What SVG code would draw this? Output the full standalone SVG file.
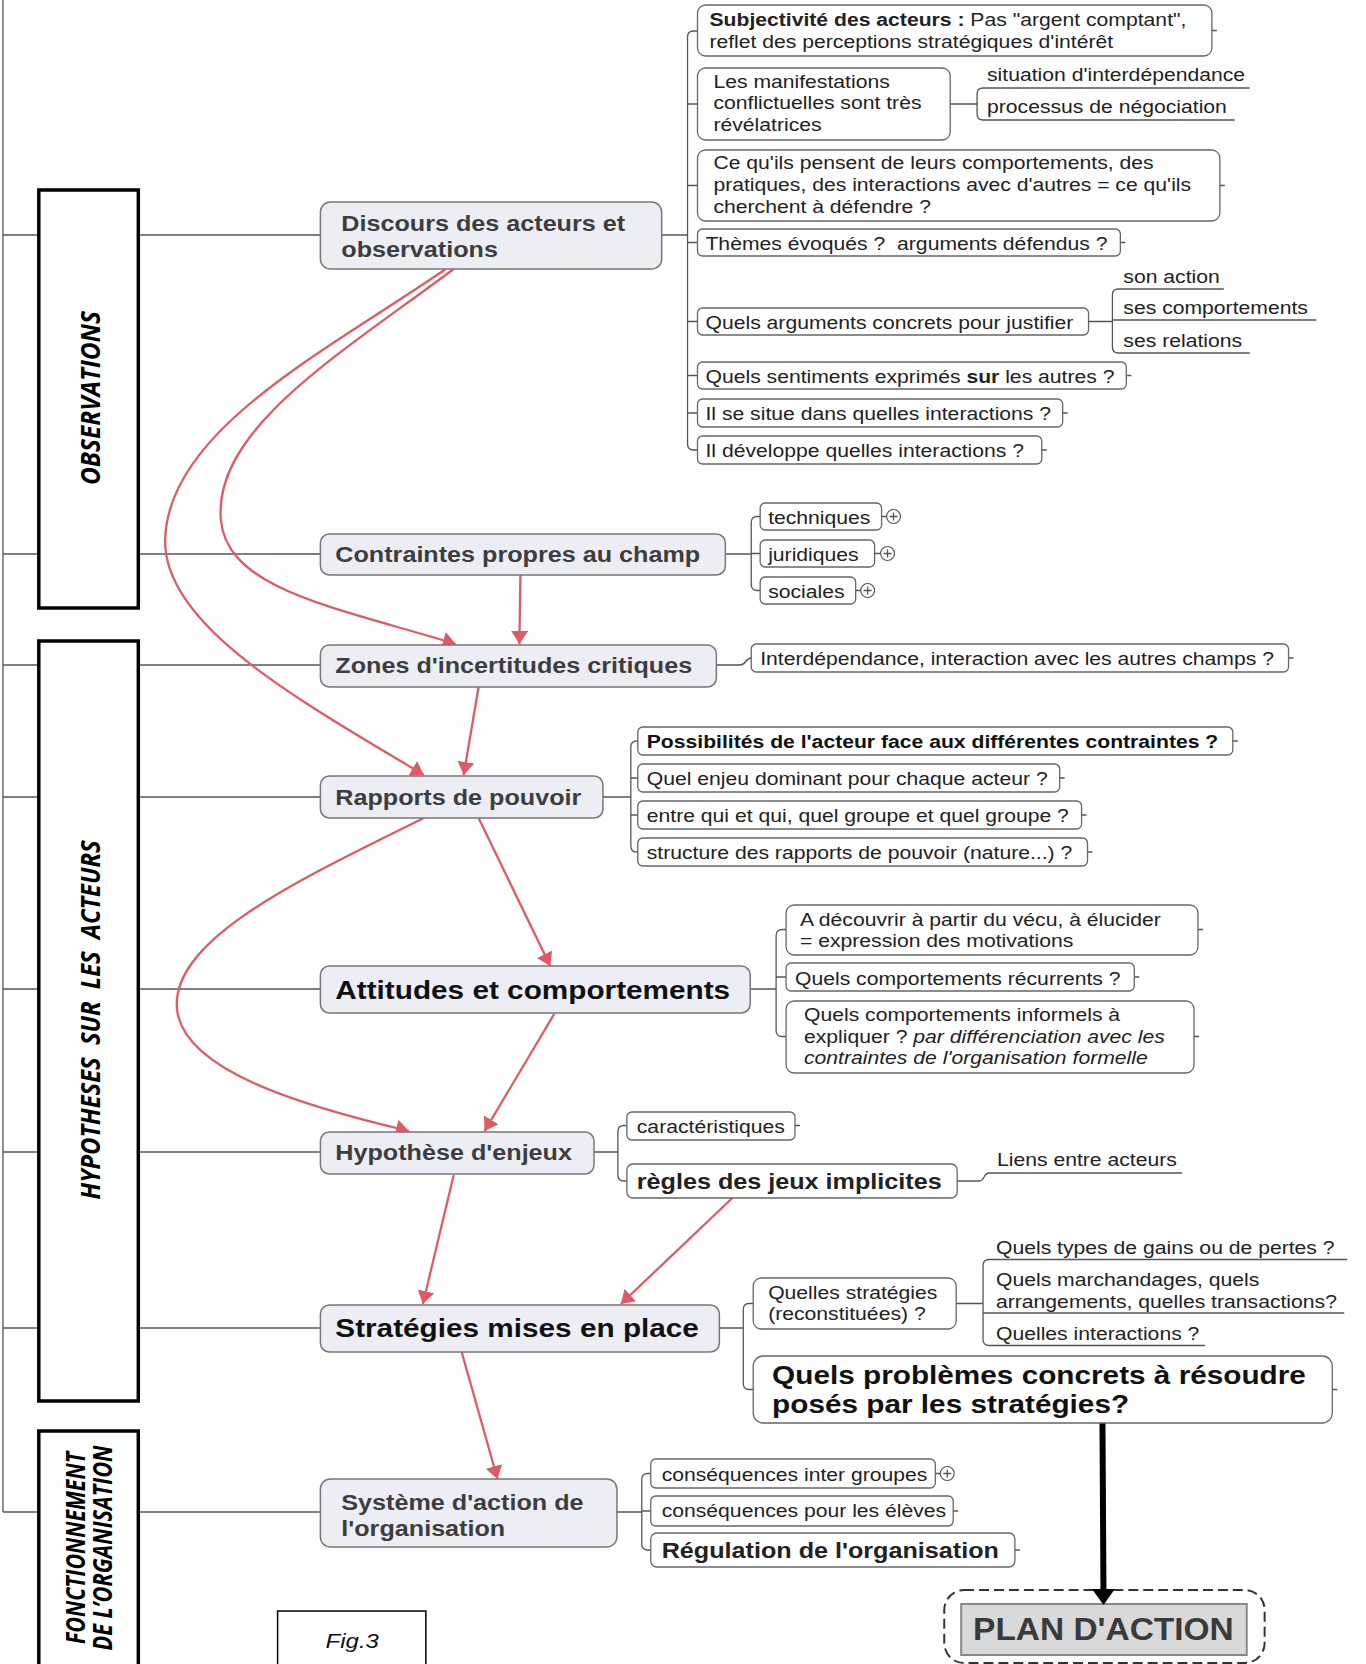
<svg xmlns="http://www.w3.org/2000/svg" width="1366" height="1664" viewBox="0 0 1366 1664">
<defs>
<style>
text{font-family:"Liberation Sans",Arial,sans-serif}
.lk{fill:none;stroke:#555;stroke-width:1.3}
.sec{fill:#fff;stroke:#000;stroke-width:3.5}
.mn{fill:#eceef4;stroke:#777;stroke-width:1.5}
.sb{fill:#fff;stroke:#666;stroke-width:1.3}
.mt{font-weight:bold;font-size:22px;fill:#3d3d3d}
.big{font-weight:bold;font-size:26px;fill:#111}
.st{font-size:18.5px;fill:#222}
.sbold{font-size:18.5px;font-weight:bold;fill:#111}
.rg{font-size:22px;font-weight:bold;fill:#222}
.sl{font-family:"Open Sans",sans-serif;font-weight:bold;font-style:italic;font-size:23px;fill:#000}
.red{fill:none;stroke:#e05a66;stroke-width:2.3}
.pl{fill:#fff;stroke:#555;stroke-width:1.2}
</style>
<marker id="ar" viewBox="0 0 13 17" refX="13" refY="8.5" markerWidth="13" markerHeight="17" markerUnits="userSpaceOnUse" orient="auto"><path d="M0,0 L13,8.5 L0,17 z" fill="#e05a66"/></marker>
<marker id="ab" viewBox="0 0 16 23" refX="0" refY="11.5" markerWidth="16" markerHeight="23" markerUnits="userSpaceOnUse" orient="auto"><path d="M0,0 L16,11.5 L0,23 z" fill="#000"/></marker>
</defs>
<rect width="1366" height="1664" fill="#fff"/>
<g id="diagram" transform="scale(0.995 1)">

<g id="n-plan">
<rect x="949" y="1590" width="322" height="73" rx="20" fill="none" stroke="#333" stroke-width="2" stroke-dasharray="10 5"/>
<rect x="966" y="1604" width="287" height="51" fill="#d9d9d9" stroke="#888" stroke-width="2"/>
<text x="1109" y="1640" text-anchor="middle" font-size="32" font-weight="bold" fill="#3a3a3a" textLength="262" lengthAdjust="spacingAndGlyphs">PLAN D'ACTION</text>
</g>

<g id="connectors">
<path class="lk" d="M3 0 V1512"/>
<path class="lk" d="M3 235 H322 M3 554 H322 M3 665 H322 M3 797 H322 M3 989 H322 M3 1152 H322 M3 1328 H322 M3 1512 H322"/>
<path class="lk" d="M665 235 H691 M701 31 H697 Q691 31 691 37 V444 Q691 450 697 450 H701 M691 104 H701 M691 185.5 H701 M691 242.5 H701 M691 321.5 H701 M691 375.5 H701 M691 413 H701"/>
<path class="lk" d="M955 104 H982 M1256 88 H988 Q982 88 982 94 V114 Q982 120 988 120 H1241"/>
<path class="lk" d="M1094 321.5 H1118 M1230 289 H1124 Q1118 289 1118 295 V347 Q1118 353 1124 353 H1256 M1118 320 H1323"/>
<path class="lk" d="M729 554 H755 M764 516.5 H761 Q755 516.5 755 522.5 V584.5 Q755 590.5 761 590.5 H764 M755 553.5 H764"/>
<path class="lk" d="M886 516.5 H891 M879 553.5 H885 M860 590.5 H865 M940 1473.5 H945"/>
<path class="lk" d="M720 665 H744 C750 665 749 658 755 658"/>
<path class="lk" d="M606 797 H634 M641 741 H640 Q634 741 634 747 V846 Q634 852 640 852 H641 M634 778 H641 M634 815 H641"/>
<path class="lk" d="M754 989 H780 M790 929.5 H786 Q780 929.5 780 935.5 V1030.5 Q780 1036.5 786 1036.5 H790 M780 977 H790"/>
<path class="lk" d="M597 1152 H621 M630 1125.5 H627 Q621 1125.5 621 1131.5 V1175 Q621 1181 627 1181 H630"/>
<path class="lk" d="M962 1181 H984 C990 1181 988 1173 994 1173 H1188"/>
<path class="lk" d="M723 1328 H747 M757 1303.5 H753 Q747 1303.5 747 1309.5 V1383.5 Q747 1389.5 753 1389.5 H757"/>
<path class="lk" d="M961 1303.5 H988 M1354 1259.5 H994 Q988 1259.5 988 1265.5 V1339.5 Q988 1345.5 994 1345.5 H1211 M988 1313 H1351"/>
<path class="lk" d="M620 1512 H645 M654 1473.5 H651 Q645 1473.5 645 1479.5 V1544 Q645 1550 651 1550 H654 M645 1511 H654"/>
<path class="lk" d="M1218 30.5 h5 M1226 185.5 h5 M1126 242.5 h5 M1132 375.5 h5 M1068 413 h5 M1047 450 h5 M1295 658 h5 M1239 741 h5 M1065 778 h5 M1087 815 h5 M1093 852 h5 M1204 929.5 h5 M1140 977 h5 M1200 1036.5 h5 M799 1125.5 h5 M1339 1389.5 h5 M958 1511 h5 M1020 1550 h5"/>
<path class="red" marker-end="url(#ar)" d="M448 269 C330 350 168 430 166 540 C164 625 300 700 426 775"/>
<path class="red" marker-end="url(#ar)" d="M456 269 C340 355 214 430 222 520 C228 590 340 608 458 644"/>
<path class="red" marker-end="url(#ar)" d="M523 575 L522 644"/>
<path class="red" marker-end="url(#ar)" d="M481 687 L466 775"/>
<path class="red" marker-end="url(#ar)" d="M426 818 C300 880 170 940 178 1010 C185 1070 300 1105 411 1131"/>
<path class="red" marker-end="url(#ar)" d="M481 818 L553 966"/>
<path class="red" marker-end="url(#ar)" d="M557 1014 L487 1131"/>
<path class="red" marker-end="url(#ar)" d="M456 1175 L425 1304"/>
<path class="red" marker-end="url(#ar)" d="M736 1198 L624 1304"/>
<path class="red" marker-end="url(#ar)" d="M464 1352 L500 1479"/>
<path d="M1108 1421 L1109 1589" fill="none" stroke="#000" stroke-width="6" marker-end="url(#ab)"/>
</g>

<g id="sections">
<rect class="sec" x="39" y="190" width="100" height="418"/>
<text class="sl" transform="translate(101 398) scale(1.15 1) rotate(-90)" text-anchor="middle" textLength="174" lengthAdjust="spacingAndGlyphs">OBSERVATIONS</text>
<rect class="sec" x="39" y="641" width="100" height="760"/>
<text class="sl" xml:space="preserve" transform="translate(101 1020) scale(1.15 1) rotate(-90)" text-anchor="middle" textLength="359" lengthAdjust="spacingAndGlyphs">HYPOTHESES  SUR  LES  ACTEURS</text>
<rect class="sec" x="39" y="1431" width="100" height="250"/>
<text class="sl" transform="translate(85 1548) scale(1.15 1) rotate(-90)" text-anchor="middle" textLength="192" lengthAdjust="spacingAndGlyphs">FONCTIONNEMENT</text>
<text class="sl" transform="translate(113 1548) scale(1.15 1) rotate(-90)" text-anchor="middle" textLength="205" lengthAdjust="spacingAndGlyphs">DE L’ORGANISATION</text>
</g>

<g id="n-discours">
<rect class="mn" x="322" y="202" width="343" height="67" rx="10"/>
<text class="mt" transform="translate(343 231) scale(1.15 1)"><tspan x="0" y="0">Discours des acteurs et</tspan><tspan x="0" y="26">observations</tspan></text>
</g>
<g id="n-subjectivite">
<rect class="sb" x="701" y="5" width="517" height="51" rx="8"/>
<text class="st" transform="translate(713 26) scale(1.15 1)"><tspan x="0" y="0"><tspan font-weight="bold">Subjectivité des acteurs :</tspan> Pas "argent comptant",</tspan><tspan x="0" y="22">reflet des perceptions stratégiques d'intérêt</tspan></text>
</g>
<g id="n-manifestations">
<rect class="sb" x="701" y="68" width="254" height="72" rx="8"/>
<text class="st" transform="translate(717 88) scale(1.15 1)"><tspan x="0" y="0">Les manifestations</tspan><tspan x="0" y="21.5">conflictuelles sont très</tspan><tspan x="0" y="43">révélatrices</tspan></text>
</g>
<g id="n-situation">
<text class="st" transform="translate(992 81) scale(1.15 1)">situation d'interdépendance</text>
</g>
<g id="n-processus">
<text class="st" transform="translate(992 113) scale(1.15 1)">processus de négociation</text>
</g>
<g id="n-pensent">
<rect class="sb" x="701" y="150" width="525" height="71" rx="8"/>
<text class="st" transform="translate(717 169) scale(1.15 1)"><tspan x="0" y="0">Ce qu'ils pensent de leurs comportements, des</tspan><tspan x="0" y="22">pratiques, des interactions avec d'autres = ce qu'ils</tspan><tspan x="0" y="44">cherchent à défendre ?</tspan></text>
</g>
<g id="n-themes">
<rect class="sb" x="701" y="229" width="425" height="27" rx="5"/>
<text class="st" xml:space="preserve" transform="translate(709 250) scale(1.15 1)">Thèmes évoqués ?  arguments défendus ?</text>
</g>
<g id="n-arguments">
<rect class="sb" x="701" y="308" width="393" height="27" rx="5"/>
<text class="st" transform="translate(709 329) scale(1.15 1)">Quels arguments concrets pour justifier</text>
</g>
<g id="n-sonaction"><text class="st" transform="translate(1129 283) scale(1.15 1)">son action</text></g>
<g id="n-sescomp"><text class="st" transform="translate(1129 314) scale(1.15 1)">ses comportements</text></g>
<g id="n-sesrel"><text class="st" transform="translate(1129 347) scale(1.15 1)">ses relations</text></g>
<g id="n-sentiments">
<rect class="sb" x="701" y="362" width="431" height="27" rx="5"/>
<text class="st" transform="translate(709 383) scale(1.15 1)">Quels sentiments exprimés <tspan font-weight="bold">sur</tspan> les autres ?</text>
</g>
<g id="n-situe">
<rect class="sb" x="701" y="399" width="367" height="28" rx="5"/>
<text class="st" transform="translate(709 420) scale(1.15 1)">Il se situe dans quelles interactions ?</text>
</g>
<g id="n-developpe">
<rect class="sb" x="701" y="436" width="346" height="28" rx="5"/>
<text class="st" transform="translate(709 457) scale(1.15 1)">Il développe quelles interactions ?</text>
</g>

<g id="n-contraintes">
<rect class="mn" x="322" y="534" width="407" height="41" rx="9"/>
<text class="mt" transform="translate(337 562) scale(1.15 1)">Contraintes propres au champ</text>
</g>
<g id="n-techniques">
<rect class="sb" x="764" y="503" width="122" height="27" rx="5"/>
<text class="st" transform="translate(772 524) scale(1.15 1)">techniques</text>
<circle class="pl" cx="898" cy="516.5" r="7"/><path class="lk" d="M894 516.5 h8 M898 512.5 v8"/>
</g>
<g id="n-juridiques">
<rect class="sb" x="764" y="540" width="115" height="27" rx="5"/>
<text class="st" transform="translate(772 561) scale(1.15 1)">juridiques</text>
<circle class="pl" cx="892" cy="553.5" r="7"/><path class="lk" d="M888 553.5 h8 M892 549.5 v8"/>
</g>
<g id="n-sociales">
<rect class="sb" x="764" y="577" width="96" height="27" rx="5"/>
<text class="st" transform="translate(772 598) scale(1.15 1)">sociales</text>
<circle class="pl" cx="872" cy="590.5" r="7"/><path class="lk" d="M868 590.5 h8 M872 586.5 v8"/>
</g>

<g id="n-zones">
<rect class="mn" x="322" y="645" width="398" height="42" rx="9"/>
<text class="mt" transform="translate(337 673) scale(1.15 1)">Zones d'incertitudes critiques</text>
</g>
<g id="n-interdependance">
<rect class="sb" x="755" y="644" width="540" height="28" rx="5"/>
<text class="st" transform="translate(764 665) scale(1.15 1)">Interdépendance, interaction avec les autres champs ?</text>
</g>

<g id="n-rapports">
<rect class="mn" x="322" y="776" width="284" height="42" rx="9"/>
<text class="mt" transform="translate(337 805) scale(1.15 1)">Rapports de pouvoir</text>
</g>
<g id="n-possibilites">
<rect class="sb" x="641" y="727" width="598" height="28" rx="5"/>
<text class="sbold" transform="translate(650 748) scale(1.15 1)">Possibilités de l'acteur face aux différentes contraintes ?</text>
</g>
<g id="n-enjeu">
<rect class="sb" x="641" y="764" width="424" height="28" rx="5"/>
<text class="st" transform="translate(650 785) scale(1.15 1)">Quel enjeu dominant pour chaque acteur ?</text>
</g>
<g id="n-entrequi">
<rect class="sb" x="641" y="801" width="446" height="28" rx="5"/>
<text class="st" transform="translate(650 822) scale(1.15 1)">entre qui et qui, quel groupe et quel groupe ?</text>
</g>
<g id="n-structure">
<rect class="sb" x="641" y="838" width="452" height="28" rx="5"/>
<text class="st" transform="translate(650 859) scale(1.15 1)">structure des rapports de pouvoir (nature...) ?</text>
</g>

<g id="n-attitudes">
<rect class="mn" x="322" y="966" width="432" height="47" rx="9"/>
<text class="big" transform="translate(337 999) scale(1.15 1)">Attitudes et comportements</text>
</g>
<g id="n-decouvrir">
<rect class="sb" x="790" y="905" width="414" height="50" rx="8"/>
<text class="st" transform="translate(804 926) scale(1.15 1)"><tspan x="0" y="0">A découvrir à partir du vécu, à élucider</tspan><tspan x="0" y="21">= expression des motivations</tspan></text>
</g>
<g id="n-recurrents">
<rect class="sb" x="790" y="963" width="350" height="28" rx="5"/>
<text class="st" transform="translate(799 985) scale(1.15 1)">Quels comportements récurrents ?</text>
</g>
<g id="n-informels">
<rect class="sb" x="790" y="1001" width="410" height="72" rx="8"/>
<text class="st" transform="translate(808 1021) scale(1.15 1)"><tspan x="0" y="0">Quels comportements informels à</tspan><tspan x="0" y="22">expliquer ? <tspan font-style="italic">par différenciation avec les</tspan></tspan><tspan x="0" y="43" font-style="italic">contraintes de l'organisation formelle</tspan></text>
</g>

<g id="n-hypothese">
<rect class="mn" x="322" y="1132" width="275" height="42" rx="9"/>
<text class="mt" transform="translate(337 1160) scale(1.15 1)">Hypothèse d'enjeux</text>
</g>
<g id="n-caracteristiques">
<rect class="sb" x="630" y="1112" width="169" height="28" rx="5"/>
<text class="st" transform="translate(640 1133) scale(1.15 1)">caractéristiques</text>
</g>
<g id="n-regles">
<rect class="sb" x="630" y="1164" width="332" height="34" rx="6"/>
<text class="rg" transform="translate(640 1189) scale(1.15 1)">règles des jeux implicites</text>
</g>
<g id="n-liens"><text class="st" transform="translate(1002 1166) scale(1.15 1)">Liens entre acteurs</text></g>

<g id="n-strategies">
<rect class="mn" x="322" y="1305" width="401" height="47" rx="9"/>
<text class="big" transform="translate(337 1337) scale(1.15 1)">Stratégies mises en place</text>
</g>
<g id="n-quelles">
<rect class="sb" x="757" y="1278" width="204" height="51" rx="8"/>
<text class="st" transform="translate(772 1299) scale(1.15 1)"><tspan x="0" y="0">Quelles stratégies</tspan><tspan x="0" y="21">(reconstituées) ?</tspan></text>
</g>
<g id="n-gains"><text class="st" transform="translate(1001 1254) scale(1.15 1)">Quels types de gains ou de pertes ?</text></g>
<g id="n-marchandages"><text class="st" transform="translate(1001 1286) scale(1.15 1)"><tspan x="0" y="0">Quels marchandages, quels</tspan><tspan x="0" y="22">arrangements, quelles transactions?</tspan></text></g>
<g id="n-interactions"><text class="st" transform="translate(1001 1340) scale(1.15 1)">Quelles interactions ?</text></g>
<g id="n-problemes">
<rect class="sb" x="757" y="1356" width="582" height="67" rx="10"/>
<text class="big" transform="translate(776 1384) scale(1.15 1)"><tspan x="0" y="0">Quels problèmes concrets à résoudre</tspan><tspan x="0" y="29">posés par les stratégies?</tspan></text>
</g>

<g id="n-systeme">
<rect class="mn" x="322" y="1479" width="298" height="68" rx="10"/>
<text class="mt" transform="translate(343 1510) scale(1.15 1)"><tspan x="0" y="0">Système d'action de</tspan><tspan x="0" y="26">l'organisation</tspan></text>
</g>
<g id="n-intergroupes">
<rect class="sb" x="654" y="1459" width="286" height="29" rx="5"/>
<text class="st" transform="translate(665 1481) scale(1.15 1)">conséquences inter groupes</text>
<circle class="pl" cx="952" cy="1473.5" r="7"/><path class="lk" d="M948 1473.5 h8 M952 1469.5 v8"/>
</g>
<g id="n-eleves">
<rect class="sb" x="654" y="1496" width="304" height="30" rx="5"/>
<text class="st" transform="translate(665 1517) scale(1.15 1)">conséquences pour les élèves</text>
</g>
<g id="n-regulation">
<rect class="sb" x="654" y="1533" width="366" height="34" rx="6"/>
<text class="rg" transform="translate(665 1558) scale(1.15 1)">Régulation de l'organisation</text>
</g>

<g id="fig">
<rect x="279" y="1611" width="149" height="70" fill="#fff" stroke="#000" stroke-width="1.5"/>
<text transform="translate(354 1648) scale(1.15 1)" text-anchor="middle" font-family="'Open Sans',sans-serif" font-style="italic" font-size="21" fill="#111">Fig.3</text>
</g>
</g>
</svg>
